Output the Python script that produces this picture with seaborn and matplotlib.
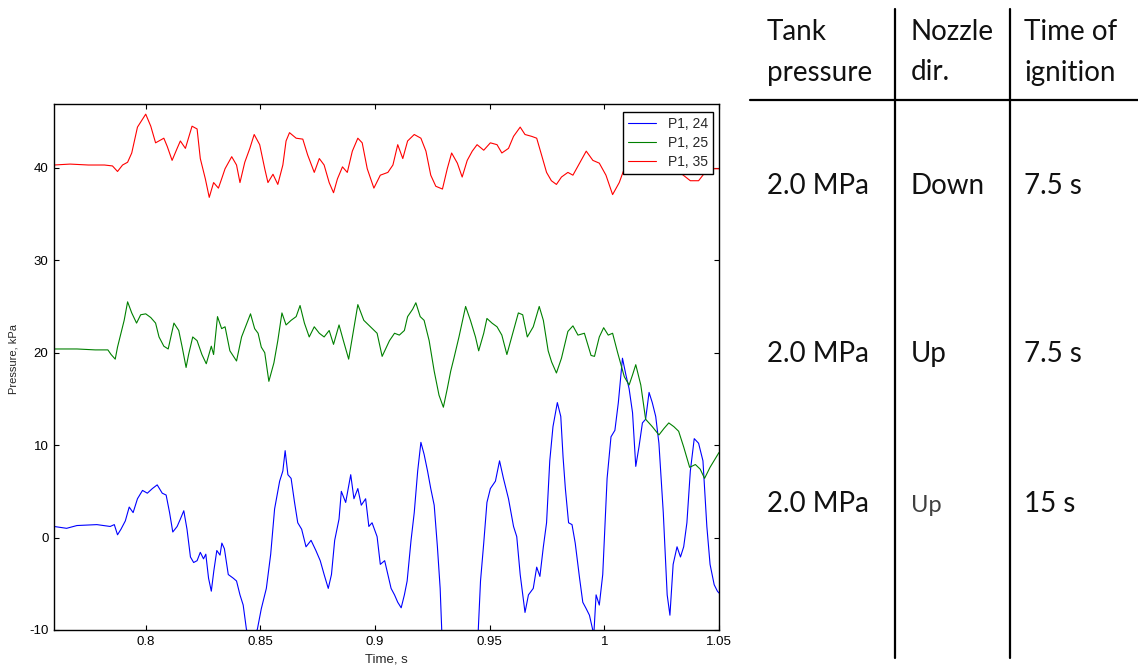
import matplotlib
matplotlib.use("Agg")
import matplotlib.pyplot as plt
import seaborn as sns
import pandas as pd

# pressure traces (time in s, pressure in kPa)
t_p24 = [
    0.7600, 0.7655, 0.7700, 0.7787, 0.7845, 0.7863, 0.7877, 0.7892, 0.7911, 0.7928,
    0.7945, 0.7964, 0.7986, 0.8007, 0.8029, 0.8050, 0.8072, 0.8089, 0.8104, 0.8118,
    0.8137, 0.8151, 0.8166, 0.8180, 0.8195, 0.8209, 0.8224, 0.8238, 0.8252, 0.8262,
    0.8274, 0.8286, 0.8297, 0.8310, 0.8324, 0.8332, 0.8343, 0.8360, 0.8382, 0.8396,
    0.8411, 0.8425, 0.8439, 0.8461, 0.8487, 0.8504, 0.8526, 0.8545, 0.8562, 0.8584,
    0.8598, 0.8608, 0.8620, 0.8634, 0.8649, 0.8663, 0.8680, 0.8699, 0.8721, 0.8742,
    0.8761, 0.8778, 0.8796, 0.8810, 0.8824, 0.8843, 0.8853, 0.8872, 0.8894, 0.8908,
    0.8925, 0.8940, 0.8959, 0.8973, 0.8987, 0.9009, 0.9023, 0.9042, 0.9056, 0.9070,
    0.9085, 0.9099, 0.9114, 0.9128, 0.9140, 0.9157, 0.9171, 0.9186, 0.9200, 0.9214,
    0.9229, 0.9243, 0.9258, 0.9272, 0.9284, 0.9291, 0.9370, 0.9450, 0.9460, 0.9474,
    0.9488, 0.9503, 0.9525, 0.9543, 0.9560, 0.9582, 0.9604, 0.9618, 0.9633, 0.9654,
    0.9669, 0.9690, 0.9705, 0.9719, 0.9734, 0.9748, 0.9762, 0.9776, 0.9795, 0.9810,
    0.9820, 0.9830, 0.9844, 0.9859, 0.9873, 0.9892, 0.9906, 0.9921, 0.9935, 0.9954,
    0.9964, 0.9978, 0.9993, 1.0012, 1.0029, 1.0046, 1.0061, 1.0079, 1.0094, 1.0108,
    1.0123, 1.0137, 1.0151, 1.0166, 1.0180, 1.0195, 1.0209, 1.0224, 1.0238, 1.0257,
    1.0274, 1.0286, 1.0300, 1.0317, 1.0332, 1.0346, 1.0360, 1.0375, 1.0392, 1.0411,
    1.0430, 1.0447, 1.0461, 1.0479, 1.0493, 1.0500,
]
p_p24 = [
    1.2, 1.0, 1.3, 1.4, 1.2, 1.4, 0.3, 0.9, 1.8, 3.3,
    2.7, 4.2, 5.1, 4.8, 5.3, 5.7, 4.8, 4.6, 2.7, 0.6,
    1.2, 2.0, 2.9, 0.9, -2.1, -2.7, -2.5, -1.6, -2.3, -1.8,
    -4.4, -5.8, -3.6, -1.4, -1.9, -0.6, -1.2, -4.0, -4.4, -4.7,
    -6.2, -7.3, -9.9, -11.5, -9.9, -7.7, -5.5, -1.8, 3.1, 6.1,
    7.2, 9.4, 6.8, 6.4, 3.8, 1.6, 0.9, -1.0, -0.3, -1.4,
    -2.5, -4.0, -5.5, -4.0, -0.3, 2.0, 5.0, 3.8, 6.8, 4.2,
    5.3, 3.5, 4.2, 1.2, 1.6, 0.1, -2.9, -2.5, -4.0, -5.5,
    -6.2, -7.0, -7.6, -6.2, -4.7, -0.3, 2.7, 7.2, 10.3, 9.0,
    7.2, 5.3, 3.5, -1.0, -5.5, -10.1, -13.0, -10.1, -4.7, -0.6,
    3.8, 5.3, 6.1, 8.3, 6.4, 4.2, 1.2, 0.1, -4.0, -8.1,
    -6.2, -5.5, -3.2, -4.2, -1.0, 1.6, 8.3, 12.0, 14.6, 13.1,
    8.7, 5.3, 1.6, 1.4, -0.6, -4.4, -7.0, -7.7, -8.4, -10.5,
    -6.2, -7.3, -4.0, 6.4, 10.9, 11.6, 14.6, 19.4, 17.6, 16.1,
    13.5, 7.7, 9.8, 12.4, 12.8, 15.7, 14.6, 13.1, 10.2, 2.7,
    -6.2, -8.4, -2.9, -1.0, -2.1, -1.0, 1.6, 7.2, 10.7, 10.2,
    8.3, 1.2, -2.9, -5.1, -5.8, -6.0,
]

t_p25 = [
    0.7600, 0.7700, 0.7780, 0.7835, 0.7849, 0.7867, 0.7877, 0.7892, 0.7906, 0.7921,
    0.7939, 0.7960, 0.7978, 0.8000, 0.8022, 0.8043, 0.8058, 0.8079, 0.8098, 0.8123,
    0.8144, 0.8159, 0.8176, 0.8187, 0.8205, 0.8224, 0.8245, 0.8264, 0.8286, 0.8296,
    0.8313, 0.8331, 0.8346, 0.8367, 0.8396, 0.8418, 0.8435, 0.8457, 0.8475, 0.8490,
    0.8504, 0.8519, 0.8537, 0.8559, 0.8576, 0.8594, 0.8612, 0.8634, 0.8656, 0.8673,
    0.8692, 0.8713, 0.8735, 0.8757, 0.8778, 0.8800, 0.8819, 0.8843, 0.8862, 0.8885,
    0.8904, 0.8925, 0.8951, 0.8980, 0.9009, 0.9031, 0.9063, 0.9085, 0.9106, 0.9128,
    0.9142, 0.9164, 0.9178, 0.9197, 0.9214, 0.9236, 0.9258, 0.9279, 0.9298, 0.9315,
    0.9330, 0.9344, 0.9366, 0.9395, 0.9416, 0.9438, 0.9452, 0.9474, 0.9488, 0.9510,
    0.9532, 0.9553, 0.9575, 0.9604, 0.9625, 0.9644, 0.9664, 0.9690, 0.9716, 0.9734,
    0.9755, 0.9770, 0.9791, 0.9813, 0.9841, 0.9863, 0.9885, 0.9913, 0.9942, 0.9957,
    0.9978, 0.9997, 1.0017, 1.0036, 1.0058, 1.0087, 1.0108, 1.0123, 1.0137, 1.0159,
    1.0180, 1.0209, 1.0238, 1.0260, 1.0281, 1.0303, 1.0324, 1.0346, 1.0372, 1.0397,
    1.0418, 1.0437, 1.0461, 1.0483, 1.0500,
]
p_p25 = [
    20.4, 20.4, 20.3, 20.3, 19.8, 19.3, 20.6, 22.1, 23.5, 25.5,
    24.3, 23.2, 24.1, 24.2, 23.8, 23.2, 21.7, 20.7, 20.4, 23.2,
    22.4, 20.6, 18.4, 19.8, 21.7, 21.3, 19.8, 18.8, 20.7, 19.8,
    23.9, 22.6, 22.8, 20.2, 19.1, 21.7, 22.8, 24.2, 22.6, 22.1,
    20.6, 20.0, 16.9, 18.9, 21.3, 24.3, 23.0, 23.5, 23.9, 25.1,
    23.2, 21.7, 22.8, 22.1, 21.7, 22.4, 20.9, 23.0, 21.3, 19.3,
    22.1, 25.2, 23.5, 22.8, 22.1, 19.6, 21.3, 22.1, 21.9, 22.4,
    23.9, 24.7, 25.4, 23.9, 23.5, 21.3, 18.0, 15.4, 14.1, 16.1,
    18.0, 19.4, 21.7, 25.0, 23.5, 21.7, 20.2, 22.1, 23.7, 23.2,
    22.8, 21.9, 19.8, 22.4, 24.3, 24.1, 21.7, 22.8, 25.0, 23.5,
    20.2, 19.0, 17.8, 19.4, 22.3, 22.9, 21.9, 22.1, 19.7, 19.6,
    21.7, 22.7, 21.9, 22.1, 20.0, 17.4, 16.5, 17.6, 18.7, 16.5,
    12.8, 12.0, 11.1, 11.8, 12.4, 12.0, 11.5, 9.8, 7.6, 7.9,
    7.4, 6.4, 7.6, 8.5, 9.2,
]

t_p35 = [
    0.7600, 0.7670, 0.7750, 0.7820, 0.7855, 0.7877, 0.7899, 0.7921, 0.7939, 0.7964,
    0.8000, 0.8022, 0.8043, 0.8079, 0.8094, 0.8115, 0.8137, 0.8151, 0.8173, 0.8202,
    0.8224, 0.8238, 0.8260, 0.8277, 0.8296, 0.8317, 0.8331, 0.8346, 0.8375, 0.8396,
    0.8411, 0.8432, 0.8454, 0.8473, 0.8497, 0.8519, 0.8533, 0.8555, 0.8576, 0.8598,
    0.8612, 0.8627, 0.8656, 0.8685, 0.8706, 0.8735, 0.8757, 0.8778, 0.8800, 0.8819,
    0.8836, 0.8858, 0.8879, 0.8901, 0.8925, 0.8944, 0.8966, 0.8995, 0.9023, 0.9056,
    0.9078, 0.9099, 0.9121, 0.9142, 0.9171, 0.9200, 0.9222, 0.9243, 0.9265, 0.9294,
    0.9315, 0.9334, 0.9359, 0.9380, 0.9402, 0.9424, 0.9445, 0.9474, 0.9503, 0.9532,
    0.9553, 0.9582, 0.9604, 0.9633, 0.9654, 0.9683, 0.9705, 0.9726, 0.9748, 0.9769,
    0.9791, 0.9813, 0.9841, 0.9863, 0.9892, 0.9921, 0.9950, 0.9978, 1.0007, 1.0036,
    1.0065, 1.0087, 1.0112, 1.0180, 1.0250, 1.0300, 1.0339, 1.0375, 1.0411, 1.0433,
    1.0454, 1.0476, 1.0500,
]
p_p35 = [
    40.3, 40.4, 40.3, 40.3, 40.2, 39.6, 40.3, 40.6, 41.6, 44.4,
    45.8, 44.5, 42.7, 43.2, 42.3, 40.8, 42.1, 42.9, 42.1, 44.5,
    44.2, 41.0, 38.8, 36.8, 38.4, 37.8, 38.8, 39.9, 41.2, 40.3,
    38.4, 40.6, 42.1, 43.6, 42.5, 39.9, 38.4, 39.3, 38.2, 40.3,
    42.9, 43.8, 43.2, 43.1, 41.4, 39.5, 41.0, 40.3, 38.4, 37.3,
    38.8, 40.1, 39.5, 41.8, 43.2, 42.7, 39.9, 37.8, 39.2, 39.5,
    40.3, 42.5, 41.0, 42.9, 43.6, 43.2, 41.8, 39.2, 38.0, 37.7,
    39.9, 41.6, 40.5, 39.0, 40.8, 41.8, 42.5, 41.9, 42.7, 42.5,
    41.6, 42.1, 43.4, 44.4, 43.6, 43.4, 43.2, 41.4, 39.5, 38.6,
    38.2, 39.0, 39.5, 39.2, 40.5, 41.8, 40.8, 40.5, 39.2, 37.1,
    38.4, 39.9, 41.0, 41.8, 41.2, 40.3, 39.3, 38.6, 38.6, 39.3,
    40.3, 39.9, 39.9,
]

series_names = ["P1, 24", "P1, 25", "P1, 35"]
series_colors = ["#0000ff", "#008000", "#ff0000"]
x_ticks = [0.8, 0.85, 0.9, 0.95, 1.0, 1.05]
y_ticks = [-10, 0, 10, 20, 30, 40]

# table on the right
table_header = ["Tank\npressure", "Nozzle\ndir.", "Time of\nignition"]
tank_pressure = ["2.0 MPa", "2.0 MPa", "2.0 MPa"]
nozzle_dir = ["Down", "Up", "Up"]
ignition_time = ["7.5 s", "7.5 s", "15 s"]

frames = []
for name, t, p in zip(series_names, [t_p24, t_p25, t_p35], [p_p24, p_p25, p_p35]):
    frames.append(pd.DataFrame({"time": t, "pressure": p, "sensor": name}))
df = pd.concat(frames, ignore_index=True)

sns.set_theme(style="ticks")
plt.rcParams["font.family"] = ["Liberation Sans", "DejaVu Sans"]
plt.rcParams["axes.unicode_minus"] = False

fig = plt.figure(figsize=(11.38, 6.69), dpi=100)
fig.patch.set_facecolor("white")
ax = fig.add_axes([54 / 1138, 39 / 669, 665 / 1138, 526 / 669])

sns.lineplot(
    data=df, x="time", y="pressure", hue="sensor",
    hue_order=series_names, palette=series_colors,
    sort=False, estimator=None, linewidth=0.8, ax=ax,
)

ax.set_xlim(0.76, 1.05)
ax.set_ylim(-10, 46.9)
ax.set_xticks(x_ticks)
ax.set_xticklabels([f"{v:g}" for v in x_ticks])
ax.set_yticks(y_ticks)
ax.set_yticklabels([f"{v:g}" for v in y_ticks])
ax.tick_params(direction="in", top=True, right=True, length=3.5, width=0.8,
               labelsize=9.5, colors="black", pad=4)
for s in ax.spines.values():
    s.set_visible(True)
    s.set_linewidth(1.0)
    s.set_color("black")

ax.set_xlabel("Time, s", fontsize=9.5)
ax.set_ylabel("Pressure, kPa", fontsize=8)
ax.xaxis.set_label_coords(0.5, -0.045)
ax.yaxis.set_label_coords(-0.054, 0.515)

handles, labels = ax.get_legend_handles_labels()
leg = ax.legend(handles, labels, loc="upper right", bbox_to_anchor=(0.9914, 0.9842),
                borderaxespad=0, fontsize=10, frameon=True, fancybox=False,
                edgecolor="black", framealpha=1, handlelength=2.0,
                handletextpad=0.9, labelspacing=0.35, borderpad=0.35)
leg.get_frame().set_linewidth(1.0)

# table drawn in pixel coordinates of the figure
tab = fig.add_axes([0, 0, 1, 1], zorder=-1)
tab.set_xlim(0, 1138)
tab.set_ylim(669, 0)
tab.axis("off")
tab.plot([895, 895], [9, 658], color="black", lw=1.6)
tab.plot([1010, 1010], [9, 658], color="black", lw=1.6)
tab.plot([750, 1138], [100, 100], color="black", lw=1.6)

col_x = [767, 911, 1024]
head_base = [40.5, 80.5]
row_base = [194, 362, 512]
tfont = ["Lato", "DejaVu Sans"]
for cx, h in zip(col_x, table_header):
    for j, line in enumerate(h.split("\n")):
        tab.text(cx, head_base[j], line, fontsize=20, family=tfont,
                 color="#111111", va="baseline", ha="left")
for i in range(3):
    cells = [tank_pressure[i], nozzle_dir[i], ignition_time[i]]
    for k, (cx, c) in enumerate(zip(col_x, cells)):
        size, col = 20, "#111111"
        if i == 2 and k == 1:
            size, col = 17, "#404040"
        tab.text(cx, row_base[i], c, fontsize=size, family=tfont,
                 color=col, va="baseline", ha="left")

fig.savefig("out.png", dpi=100)
